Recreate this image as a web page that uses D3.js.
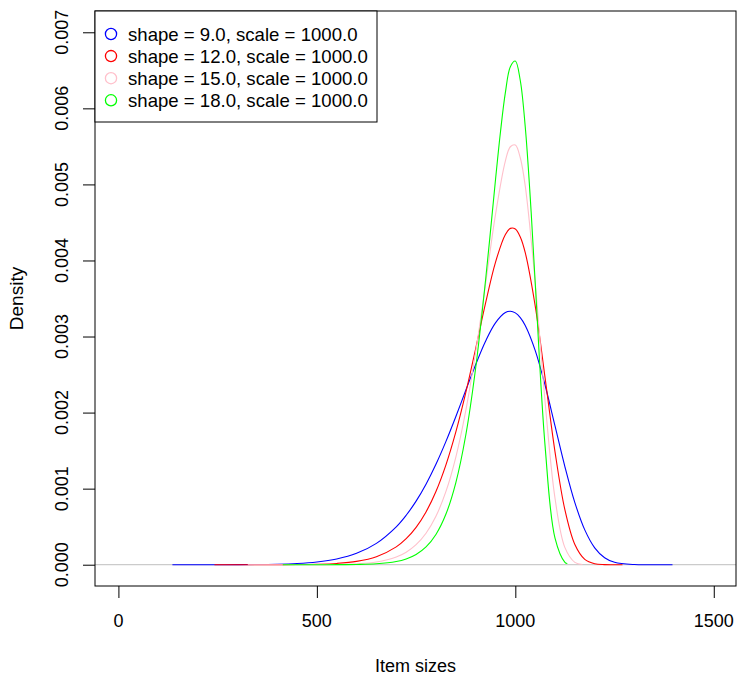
<!DOCTYPE html>
<html><head><meta charset="utf-8">
<script src="https://cdn.jsdelivr.net/npm/d3@7"></script>
<style>body{margin:0;background:#fff}svg{display:block}text{font-family:"Liberation Sans",Arial,Helvetica,sans-serif}</style>
</head><body>
<svg id="chart" width="739" height="678"></svg>
<script>
const seriesNames = ["shape = 9.0, scale = 1000.0","shape = 12.0, scale = 1000.0","shape = 15.0, scale = 1000.0","shape = 18.0, scale = 1000.0"];
const seriesColors = ["#0000ff","#ff0000","#ffc0cb","#00ff00"];

const blueX = [136,200,300,400,450,500,550,600,650,700,725,750,775,800,825,850,875,900,925,950,975,987.5,1000,1012.5,1025,1050,1075,1100,1125,1150,1175,1200,1225,1250,1300,1350,1396];
const blueY = [0,0.00000002,0.0000006,0.0000059,0.0000151,0.0000351,0.0000750,0.0001497,0.0002809,0.0004983,0.0006500,0.0008359,0.0010589,0.0013203,0.0016180,0.0019454,0.0022895,0.0026298,0.0029381,0.0031793,0.0033150,0.0033321,0.0033109,0.0032490,0.0031453,0.0028185,0.0023593,0.0018251,0.0012877,0.0008167,0.0004577,0.0002222,0.0000915,0.0000312,0.0000018,0.00000003,0];

const redX = [242,300,350,400,450,500,550,600,650,700,725,750,775,800,825,850,875,900,925,950,975,987.5,1000,1012.5,1025,1050,1075,1100,1125,1150,1175,1200,1225,1250,1270];
const redY = [0,0.00000002,0.00000012,0.0000005,0.0000018,0.0000059,0.0000167,0.0000434,0.0001044,0.0002340,0.0003418,0.0004910,0.0006936,0.0009623,0.0013092,0.0017419,0.0022583,0.0028392,0.0034381,0.0039761,0.0043424,0.0044220,0.0044146,0.0043095,0.0041028,0.0034059,0.0024560,0.0014841,0.0007194,0.0002650,0.0000695,0.0000120,0.0000012,0.00000007,0];

const pinkX = [326,400,450,500,550,600,650,700,725,750,775,800,825,850,875,900,925,950,975,987.5,1000,1012.5,1025,1050,1075,1100,1125,1150,1169];
const pinkY = [0,0.00000004,0.0000002,0.0000009,0.0000035,0.0000117,0.0000360,0.0001013,0.0001649,0.0002637,0.0004138,0.0006369,0.0009599,0.0014126,0.0020211,0.0027930,0.0036915,0.0046028,0.0053100,0.0054951,0.0055182,0.0053503,0.0049804,0.0037152,0.0021416,0.0008739,0.0002242,0.0000311,0.000002];

const greenX = [414,450,500,550,600,650,700,725,750,775,800,825,850,875,900,925,950,962.5,975,987.5,1000,1012.5,1025,1037.5,1050,1075,1100,1125,1131];
const greenY = [0,0.00000002,0.00000014,0.0000007,0.0000030,0.0000119,0.0000418,0.0000758,0.0001345,0.0002339,0.0003981,0.0006628,0.0010767,0.0016988,0.0025835,0.0037406,0.0050589,0.0056862,0.0062091,0.0065478,0.0066218,0.0063662,0.0057572,0.0048361,0.0037175,0.0015592,0.0003502,0.0000321,0.000015];

const xTicks = [0,500,1000,1500];
const yTicks = [0,0.001,0.002,0.003,0.004,0.005,0.006,0.007];
const yTickLabels = ["0.000","0.001","0.002","0.003","0.004","0.005","0.006","0.007"];

const svg = d3.select("#chart");
const L = 95, R = 736, T = 11, B = 586;
const x = d3.scaleLinear().domain([-59, 1556]).range([L, R]);
const y = d3.scaleLinear().domain([-0.00028, 0.00728]).range([B, T]);

svg.append("rect").attr("width",739).attr("height",678).attr("fill","#fff");

// zero line
svg.append("line").attr("x1",L).attr("x2",R).attr("y1",y(0)).attr("y2",y(0))
  .attr("stroke","#bebebe").attr("stroke-width",1);

const allSeries = [[blueX,blueY],[redX,redY],[pinkX,pinkY],[greenX,greenY]];
const line = d3.line().x(d=>x(d[0])).y(d=>y(d[1])).curve(d3.curveCatmullRom);
allSeries.forEach((s,i)=>{
  const pts = s[0].map((v,j)=>[v, s[1][j]]);
  svg.append("path").attr("d", line(pts)).attr("fill","none")
    .attr("stroke", seriesColors[i]).attr("stroke-width",1.1);
});

// box
svg.append("rect").attr("x",L).attr("y",T).attr("width",R-L).attr("height",B-T)
  .attr("fill","none").attr("stroke","#000").attr("stroke-width",1);

// x axis
const xa = svg.append("g").attr("transform",`translate(0,${B})`)
  .call(d3.axisBottom(x).tickValues(xTicks).tickSize(12).tickPadding(0).tickFormat(d3.format("d")));
xa.select(".domain").remove();
xa.selectAll("line").attr("stroke","#000");
xa.selectAll("text").remove();
xTicks.forEach(t=>{
  svg.append("text").attr("x",x(t)).attr("y",627).attr("text-anchor","middle")
    .attr("font-size",18).attr("fill","#000").text(String(t));
});

// y axis
const ya = svg.append("g").attr("transform",`translate(${L},0)`)
  .call(d3.axisLeft(y).tickValues(yTicks).tickSize(12));
ya.select(".domain").remove();
ya.selectAll("line").attr("stroke","#000");
ya.selectAll("text").remove();
yTicks.forEach((t,i)=>{
  svg.append("text").attr("transform",`translate(68,${y(t)}) rotate(-90)`)
    .attr("text-anchor","middle").attr("font-size",18).attr("fill","#000").text(yTickLabels[i]);
});

// axis titles
svg.append("text").attr("x",(L+R)/2).attr("y",672).attr("text-anchor","middle")
  .attr("font-size",18).text("Item sizes");
svg.append("text").attr("transform",`translate(23,${(T+B)/2}) rotate(-90)`)
  .attr("text-anchor","middle").attr("font-size",19).text("Density");

// legend
const lg = svg.append("g");
lg.append("rect").attr("x",L).attr("y",T).attr("width",282).attr("height",111)
  .attr("fill","#fff").attr("stroke","#000").attr("stroke-width",1);
seriesNames.forEach((n,i)=>{
  const cy = 34 + i*22.1;
  lg.append("circle").attr("cx",111).attr("cy",cy).attr("r",5.6)
    .attr("fill","none").attr("stroke",seriesColors[i]).attr("stroke-width",1.3);
  lg.append("text").attr("x",128).attr("y",cy+6.6).attr("font-size",18.6).text(n);
});
</script>
</body></html>
